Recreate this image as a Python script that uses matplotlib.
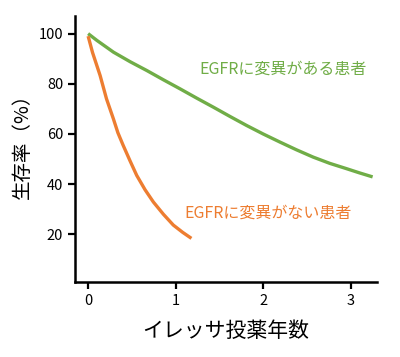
import matplotlib
matplotlib.use('Agg')
import matplotlib.pyplot as plt

plt.rcParams['font.family'] = ['Noto Sans CJK JP', 'DejaVu Sans']

# survival curves (years, %)
mut_years = [0, 0.1, 0.29, 0.48, 0.67, 0.86, 1.05, 1.24, 1.43, 1.62, 1.81, 2.0, 2.19, 2.38, 2.57, 2.76, 2.95, 3.1, 3.25]
mut_surv = [100, 97.3, 92.6, 88.8, 85.3, 81.6, 78.0, 74.3, 70.7, 67.0, 63.4, 60.0, 56.8, 53.7, 50.8, 48.3, 46.2, 44.5, 42.9]
wt_years = [0, 0.05, 0.137, 0.21, 0.288, 0.34, 0.40, 0.48, 0.555, 0.65, 0.745, 0.86, 0.973, 1.08, 1.18]
wt_surv = [99, 92.5, 83.3, 74.0, 66.1, 60.5, 55.5, 49.2, 43.5, 37.8, 32.9, 28.0, 23.7, 20.8, 18.4]

GREEN = '#70AD47'
ORANGE = '#ED7D31'

fig = plt.figure(figsize=(4, 3.57), dpi=100)
ax = fig.add_axes([0.1875, 0.21, 0.755, 0.745])

ax.plot(mut_years, mut_surv, color=GREEN, lw=2.4, solid_capstyle='butt', solid_joinstyle='round')
ax.plot(wt_years, wt_surv, color=ORANGE, lw=2.4, solid_capstyle='butt', solid_joinstyle='round')

ax.text(2.23, 86.0, 'EGFRに変異がある患者', color=GREEN, fontsize=11.5, ha='center', va='center')
ax.text(2.05, 28.3, 'EGFRに変異がない患者', color=ORANGE, fontsize=11.5, ha='center', va='center')

ax.set_xlim(-0.15, 3.3)
ax.set_ylim(1, 107)
ax.set_xticks([0, 1, 2, 3])
ax.set_yticks([20, 40, 60, 80, 100])
ax.tick_params(width=1.6, length=5, labelsize=10.5, colors='black')
for side in ['top', 'right']:
    ax.spines[side].set_visible(False)
for side in ['left', 'bottom']:
    ax.spines[side].set_linewidth(1.8)

ax.set_xlabel('イレッサ投薬年数', fontsize=15, labelpad=9)
ax.set_ylabel('生存率（%）', fontsize=14)
ax.yaxis.set_label_coords(-0.14, 0.53)

plt.savefig('out.png', dpi=100)
plt.close()
